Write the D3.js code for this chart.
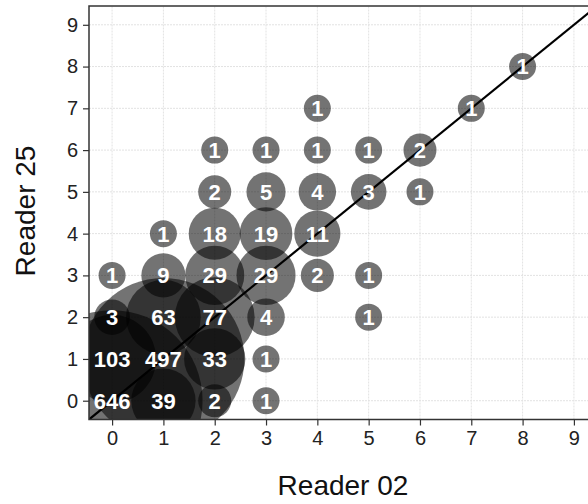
<!DOCTYPE html>
<html>
<head>
<meta charset="utf-8">
<script src="https://cdn.jsdelivr.net/npm/d3@7"></script>
<style>
  body { margin: 0; background: #fff; }
  svg { display: block; font-family: "Liberation Sans", Arial, sans-serif; }
</style>
</head>
<body>
<div id="chart"></div>
<script>
// Agreement counts: score given by Reader 02 (x) vs Reader 25 (y)
const reader02 = [0, 1, 2, 3,  0, 1, 2, 3,  0, 1, 2, 3, 5,  0, 1, 2, 3, 4, 5,  1, 2, 3, 4,  2, 3, 4, 5, 6,  2, 3, 4, 5, 6,  4, 7,  8];
const reader25 = [0, 0, 0, 0,  1, 1, 1, 1,  2, 2, 2, 2, 2,  3, 3, 3, 3, 3, 3,  4, 4, 4, 4,  5, 5, 5, 5, 5,  6, 6, 6, 6, 6,  7, 7,  8];
const counts   = [646, 39, 2, 1,  103, 497, 33, 1,  3, 63, 77, 4, 1,  1, 9, 29, 29, 2, 1,  1, 18, 19, 11,  2, 5, 4, 3, 1,  1, 1, 1, 1, 2,  1, 1,  1];
const tickValues = [0, 1, 2, 3, 4, 5, 6, 7, 8, 9];

const points = counts.map((n, i) => ({x: reader02[i], y: reader25[i], n: n}));

const svg = d3.select("#chart").append("svg")
    .attr("width", 588)
    .attr("height", 504);

// Scales: panel runs past the right edge of the window, like the reference
const x = d3.scaleLinear().domain([-0.45, 9.45]).range([89, 597]);
const y = d3.scaleLinear().domain([-0.45, 9.45]).range([419.5, 6]);

// size: radius grows with sqrt of the rescaled count (ggplot style)
const countT = d3.scaleLinear().domain(d3.extent(counts)).range([0, 1]);
const radius = d3.scaleLinear().domain([0, 1]).range([13.5, 90.5]);
const r = n => radius(Math.sqrt(countT(n)));

svg.append("clipPath").attr("id", "panel")
  .append("rect")
    .attr("x", x.range()[0]).attr("y", y.range()[1])
    .attr("width", x.range()[1] - x.range()[0])
    .attr("height", y.range()[0] - y.range()[1]);

// dotted light grid
const grid = svg.append("g").attr("clip-path", "url(#panel)")
    .attr("stroke", "#e2e2e2").attr("stroke-width", 1).attr("stroke-dasharray", "2,1");
grid.selectAll(".gx").data(tickValues).enter().append("line")
    .attr("x1", d => x(d)).attr("x2", d => x(d))
    .attr("y1", y.range()[0]).attr("y2", y.range()[1]);
grid.selectAll(".gy").data(tickValues).enter().append("line")
    .attr("y1", d => y(d)).attr("y2", d => y(d))
    .attr("x1", x.range()[0]).attr("x2", x.range()[1]);

const plot = svg.append("g").attr("clip-path", "url(#panel)");

plot.selectAll("circle")
    .data(points)
    .enter()
    .append("circle")
    .attr("cx", d => x(d.x))
    .attr("cy", d => y(d.y))
    .attr("r", d => r(d.n))
    .attr("fill", "#000")
    .attr("fill-opacity", 0.55);

// identity line
plot.append("line")
    .attr("x1", x(-1)).attr("y1", y(-1))
    .attr("x2", x(10)).attr("y2", y(10))
    .attr("stroke", "#000")
    .attr("stroke-width", 2.2);

plot.selectAll(".count")
    .data(points)
    .enter()
    .append("text")
    .attr("class", "count")
    .attr("x", d => x(d.x))
    .attr("y", d => y(d.y))
    .attr("dy", "0.36em")
    .attr("text-anchor", "middle")
    .attr("fill", "#fff")
    .attr("font-weight", "bold")
    .attr("font-size", "22px")
    .text(d => d.n);

// axes
const xAxis = svg.append("g")
    .attr("transform", `translate(0,${y.range()[0]})`)
    .call(d3.axisBottom(x).tickValues(tickValues).tickSize(6).tickSizeOuter(0).tickPadding(5));
const yAxis = svg.append("g")
    .attr("transform", `translate(${x.range()[0]},0)`)
    .call(d3.axisLeft(y).tickValues(tickValues).tickSize(6).tickSizeOuter(0).tickPadding(5));

[xAxis, yAxis].forEach(a => {
    a.select(".domain").remove();
    a.selectAll("line").attr("stroke", "#333").attr("stroke-width", 1.2);
    a.selectAll("text").attr("fill", "#222").style("font-size", "20px")
        .style("font-family", "'Liberation Sans', Arial, sans-serif");
});

// panel border
svg.append("rect")
    .attr("x", x.range()[0]).attr("y", y.range()[1])
    .attr("width", x.range()[1] - x.range()[0])
    .attr("height", y.range()[0] - y.range()[1])
    .attr("fill", "none")
    .attr("stroke", "#333")
    .attr("stroke-width", 1.5);

// axis titles
svg.append("text")
    .attr("x", 343).attr("y", 495)
    .attr("text-anchor", "middle")
    .attr("font-size", "28px")
    .attr("fill", "#111")
    .text("Reader 02");

svg.append("text")
    .attr("transform", "translate(35,211) rotate(-90)")
    .attr("text-anchor", "middle")
    .attr("font-size", "28px")
    .attr("fill", "#111")
    .text("Reader 25");
</script>
</body>
</html>
